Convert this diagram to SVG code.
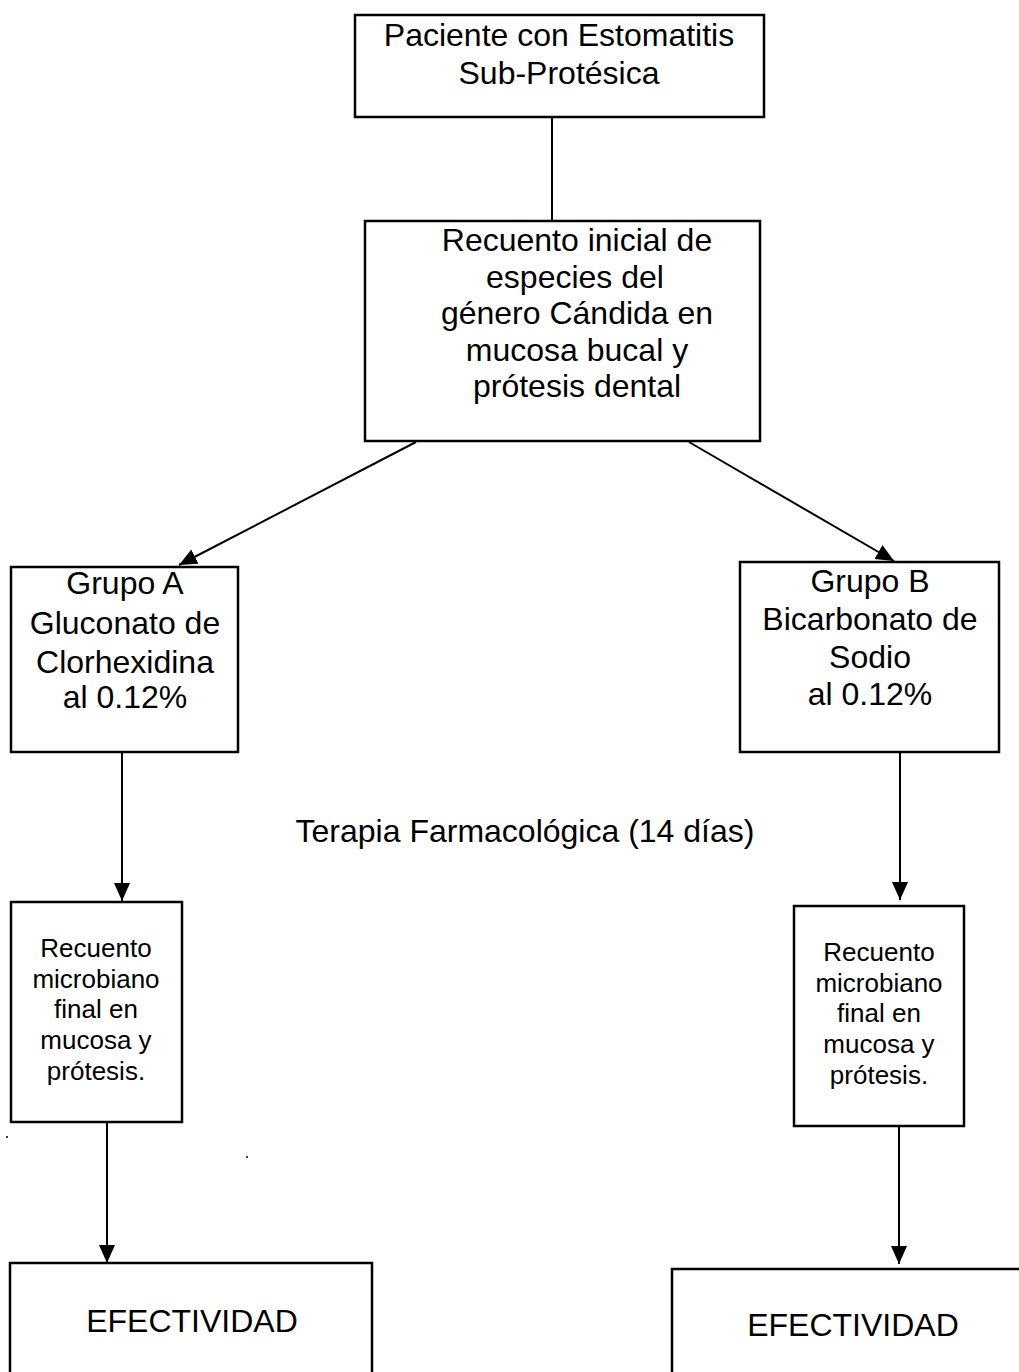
<svg xmlns="http://www.w3.org/2000/svg" width="1019" height="1372" viewBox="0 0 1019 1372">
<style>
  .box { fill: #ffffff; stroke: #000000; stroke-width: 2.5; }
  .big { font-family: "Liberation Sans", Arial, sans-serif; font-size: 32px; fill: #000000; text-anchor: middle; }
  .small { font-family: "Liberation Sans", Arial, sans-serif; font-size: 26px; fill: #000000; text-anchor: middle; }
  .conn { stroke: #000000; stroke-width: 2; fill: none; }
</style>
<defs>
  <marker id="arrow" markerUnits="userSpaceOnUse" markerWidth="20" markerHeight="18" viewBox="0 0 20 18" refX="18" refY="9" orient="auto">
    <path d="M0,1 L18,9 L0,17 Z" fill="#000000"/>
  </marker>
</defs>
<rect width="1019" height="1372" fill="#ffffff"/>

<g id="connectors">
  <line class="conn" x1="552" y1="117" x2="552" y2="221"/>
  <line class="conn" x1="416" y1="442" x2="179" y2="565" marker-end="url(#arrow)"/>
  <line class="conn" x1="689" y1="442" x2="894" y2="561" marker-end="url(#arrow)"/>
  <line class="conn" x1="122" y1="750" x2="122" y2="901" marker-end="url(#arrow)"/>
  <line class="conn" x1="900" y1="750" x2="900" y2="900" marker-end="url(#arrow)"/>
  <line class="conn" x1="107" y1="1120" x2="107" y2="1263" marker-end="url(#arrow)"/>
  <line class="conn" x1="899" y1="1124" x2="899" y2="1264" marker-end="url(#arrow)"/>
</g>

<g id="node-paciente">
  <rect class="box" x="355" y="15" width="409" height="102"/>
  <text class="big" x="559" y="46">Paciente con Estomatitis</text>
  <text class="big" x="559" y="84">Sub-Protésica</text>
</g>

<g id="node-recuento-inicial">
  <rect class="box" x="365" y="221" width="395" height="220"/>
  <text class="big" x="577" y="251">Recuento inicial de</text>
  <text class="big" x="575" y="288">especies del</text>
  <text class="big" x="577" y="324">género Cándida en</text>
  <text class="big" x="577" y="361">mucosa bucal y</text>
  <text class="big" x="577" y="397">prótesis dental</text>
</g>

<g id="node-grupo-a">
  <rect class="box" x="11" y="567" width="227" height="185"/>
  <text class="big" x="125" y="594">Grupo A</text>
  <text class="big" x="125" y="634">Gluconato de</text>
  <text class="big" x="125" y="673">Clorhexidina</text>
  <text class="big" x="125" y="708">al 0.12%</text>
</g>

<g id="node-grupo-b">
  <rect class="box" x="740" y="562" width="259" height="190"/>
  <text class="big" x="870" y="592">Grupo B</text>
  <text class="big" x="870" y="630">Bicarbonato de</text>
  <text class="big" x="870" y="668">Sodio</text>
  <text class="big" x="870" y="705">al 0.12%</text>
</g>

<g id="label-terapia">
  <text class="big" x="525" y="842">Terapia Farmacológica (14 días)</text>
</g>

<g id="node-recuento-final-a">
  <rect class="box" x="11" y="902" width="171" height="220"/>
  <text class="small" x="96" y="957">Recuento</text>
  <text class="small" x="96" y="988">microbiano</text>
  <text class="small" x="96" y="1018">final en</text>
  <text class="small" x="96" y="1049">mucosa y</text>
  <text class="small" x="96" y="1080">prótesis.</text>
</g>

<g id="node-recuento-final-b">
  <rect class="box" x="794" y="906" width="170" height="220"/>
  <text class="small" x="879" y="961">Recuento</text>
  <text class="small" x="879" y="992">microbiano</text>
  <text class="small" x="879" y="1022">final en</text>
  <text class="small" x="879" y="1053">mucosa y</text>
  <text class="small" x="879" y="1084">prótesis.</text>
</g>

<g id="node-efectividad-a">
  <rect class="box" x="10" y="1263" width="362" height="130"/>
  <text class="big" x="192" y="1332">EFECTIVIDAD</text>
</g>

<g id="node-efectividad-b">
  <rect class="box" x="672" y="1269" width="360" height="130"/>
  <text class="big" x="853" y="1336">EFECTIVIDAD</text>
</g>

<circle cx="7" cy="1137" r="1" fill="#000000"/>
<circle cx="247" cy="1157" r="1" fill="#000000"/>
</svg>
